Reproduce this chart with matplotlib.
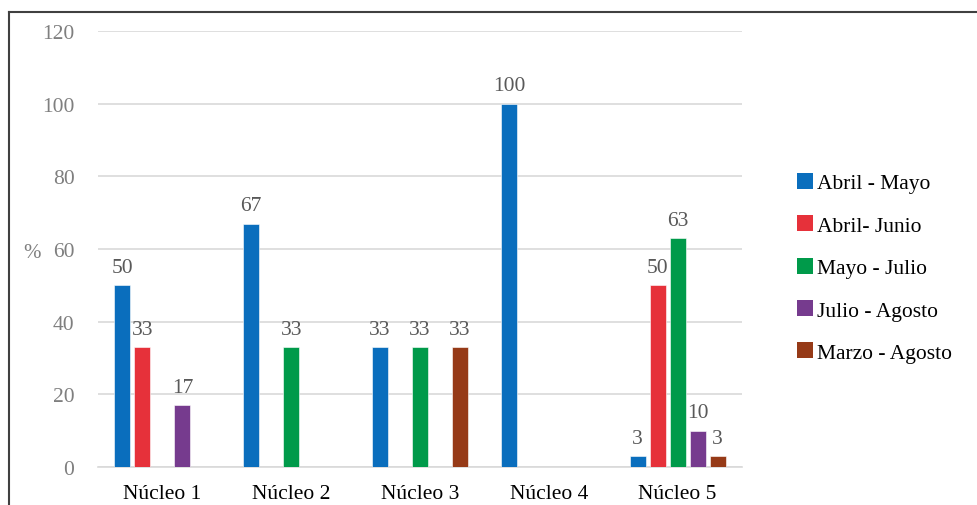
import numpy as np
import matplotlib
matplotlib.use("Agg")
import matplotlib.pyplot as plt
from matplotlib.lines import Line2D
from matplotlib.patches import Patch

categories = ["Núcleo 1", "Núcleo 2", "Núcleo 3", "Núcleo 4", "Núcleo 5"]
series_names = ["Abril - Mayo", "Abril- Junio", "Mayo - Julio", "Julio - Agosto", "Marzo - Agosto"]
abril_mayo = [50, 67, 33, 100, 3]
abril_junio = [33, 0, 0, 0, 50]
mayo_julio = [0, 33, 33, 0, 63]
julio_agosto = [17, 0, 0, 0, 10]
marzo_agosto = [0, 0, 33, 0, 3]
series_values = [abril_mayo, abril_junio, mayo_julio, julio_agosto, marzo_agosto]
colors = ["#0A6EBD", "#E6313A", "#009A4A", "#763B8E", "#963A17"]
yticks = [0, 20, 40, 60, 80, 100, 120]

plt.rcParams["font.family"] = ["Liberation Serif", "DejaVu Serif"]

fig = plt.figure(figsize=(9.77, 5.06), dpi=100)
ax = fig.add_axes([0.1003, 0.0751, 0.6592, 0.8617])

x = np.arange(len(categories))
slot = 0.155
width = 0.124
for i, (name, vals, col) in enumerate(zip(series_names, series_values, colors)):
    pos = x + (i - 2) * slot
    for p, v in zip(pos, vals):
        if v == 0:
            continue
        ax.bar(p, v, width=width, color=col, edgecolor="white", linewidth=0.4, zorder=3)
        ax.annotate(str(v), (p, v), xytext=(0, 6), textcoords="offset points",
                    ha="center", va="bottom", fontsize=15.5, color="#595959")

ax.set_xlim(-0.5, len(categories) - 0.5)
ax.set_ylim(0, 120)
ax.set_yticks(yticks)
ax.set_xticks(x)
ax.set_xticklabels(categories, fontsize=15.5, color="black")
ax.tick_params(axis="y", labelsize=15.5, labelcolor="#7f7f7f", length=0, pad=17)
ax.tick_params(axis="x", length=0, pad=12)
ax.grid(axis="y", color="#d9d9d9", linewidth=1.2, zorder=0)
for s in ["top", "right", "left"]:
    ax.spines[s].set_visible(False)
ax.spines["bottom"].set_color("#d9d9d9")
ax.spines["bottom"].set_linewidth(1.2)

fig.text(32 / 977, 1 - 253 / 506, "%", fontsize=15, color="#7f7f7f", ha="center", va="center")

handles = [Patch(facecolor=c, edgecolor="none") for c in colors]
fig.legend(handles, series_names, loc="upper left", bbox_to_anchor=(0.8157, 0.656),
           frameon=False, fontsize=15.5, handlelength=0.75, handleheight=0.75,
           handletextpad=0.2, labelspacing=1.02, borderpad=0, borderaxespad=0)

# outer frame (top and left only)
fig.add_artist(Line2D([9 / 977, 1.0], [1 - 13 / 506, 1 - 13 / 506], transform=fig.transFigure,
                      color="#404040", linewidth=1.5))
fig.add_artist(Line2D([9 / 977, 9 / 977], [0, 1 - 13 / 506], transform=fig.transFigure,
                      color="#404040", linewidth=1.5))

fig.savefig("out.png", dpi=100)
